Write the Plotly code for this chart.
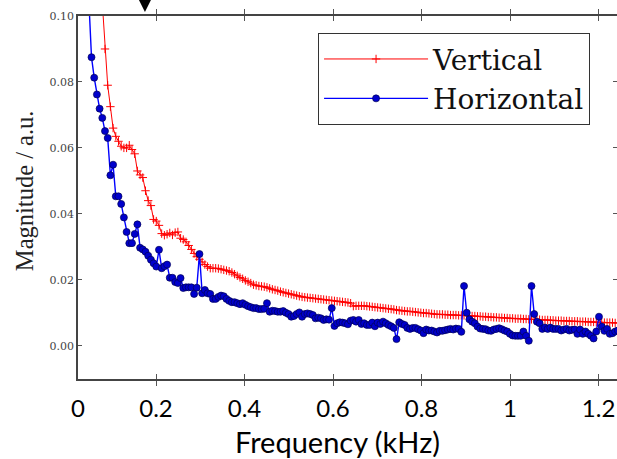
import numpy as np
import plotly.graph_objects as go

# Frequency grid (kHz): uniform sampling of the spectrum (first bin at ~0.024 kHz)
freq_khz = np.round(0.0237 + np.arange(201) * 0.0061, 4)

vertical_mag = [
    0.50, 0.40, 0.30, 0.25, 0.20,
    0.17, 0.15, 0.13, 0.115, 0.104,
    0.0900, 0.0790, 0.0725, 0.0660, 0.0635,
    0.0620, 0.0605, 0.0600, 0.0600, 0.0608,
    0.0595, 0.0582, 0.0530, 0.0518, 0.0510,
    0.0470, 0.0440, 0.0425, 0.0383, 0.0378,
    0.0365, 0.0340, 0.0335, 0.0338, 0.0342,
    0.0336, 0.0343, 0.0345, 0.0326, 0.0322,
    0.0315, 0.0304, 0.0292, 0.0280, 0.0270,
    0.0262, 0.0254, 0.0246, 0.0240, 0.0235,
    0.0235, 0.0235, 0.0234, 0.0232, 0.0230,
    0.0228, 0.0226, 0.0222, 0.0217, 0.0212,
    0.0207, 0.0203, 0.0198, 0.0194, 0.0190,
    0.0185, 0.0183, 0.0181, 0.0180, 0.0179,
    0.0177, 0.0174, 0.0171, 0.0169, 0.0167,
    0.0164, 0.0162, 0.0160, 0.0158, 0.0156,
    0.0154, 0.0152, 0.0150, 0.0148, 0.0147,
    0.0146, 0.0145, 0.0144, 0.0143, 0.0142,
    0.0141, 0.0140, 0.0139, 0.0138, 0.0137,
    0.0136, 0.0135, 0.0134, 0.0133, 0.0132,
    0.0131, 0.0129, 0.0120, 0.0121, 0.0121,
    0.0121, 0.0121, 0.0120, 0.0119, 0.0118,
    0.0117, 0.0116, 0.0115, 0.0114, 0.0113,
    0.0112, 0.0111, 0.0110, 0.0108, 0.0107,
    0.0106, 0.0105, 0.0104, 0.0104, 0.0103,
    0.0102, 0.0101, 0.0100, 0.0099, 0.0099,
    0.0098, 0.0097, 0.0096, 0.0095, 0.0095,
    0.0095, 0.0094, 0.0094, 0.0093, 0.0093,
    0.0093, 0.0092, 0.0092, 0.0092, 0.0091,
    0.0091, 0.0090, 0.0090, 0.0089, 0.0089,
    0.0088, 0.0088, 0.0087, 0.0087, 0.0086,
    0.0086, 0.0085, 0.0085, 0.0084, 0.0084,
    0.0083, 0.0083, 0.0082, 0.0082, 0.0082,
    0.0081, 0.0081, 0.0080, 0.0080, 0.0080,
    0.0079, 0.0079, 0.0078, 0.0078, 0.0078,
    0.0077, 0.0077, 0.0076, 0.0076, 0.0076,
    0.0075, 0.0075, 0.0075, 0.0074, 0.0074,
    0.0074, 0.0073, 0.0073, 0.0073, 0.0072,
    0.0072, 0.0072, 0.0071, 0.0071, 0.0071,
    0.0070, 0.0070, 0.0070, 0.0070, 0.0069,
    0.0069, 0.0069, 0.0068, 0.0068, 0.0068,
    0.0067,
]

horizontal_mag = [
    0.40, 0.30, 0.20, 0.15, 0.105,
    0.0875, 0.0813, 0.0762, 0.0719, 0.0691,
    0.0651, 0.0630, 0.0517, 0.0549, 0.0453,
    0.0453, 0.0430, 0.0389, 0.0345, 0.0311,
    0.0311, 0.0339, 0.0368, 0.0297, 0.0292,
    0.0285, 0.0273, 0.0261, 0.0250, 0.0240,
    0.0291, 0.0235, 0.0241, 0.0246, 0.0206,
    0.0206, 0.0193, 0.0190, 0.0205, 0.0175,
    0.0177, 0.0177, 0.0177, 0.0157, 0.0176,
    0.0278, 0.0159, 0.0169, 0.0159, 0.0157,
    0.0142, 0.0142, 0.0148, 0.0152, 0.0150,
    0.0142, 0.0136, 0.0132, 0.0132, 0.0129,
    0.0126, 0.0129, 0.0124, 0.0120, 0.0117,
    0.0114, 0.0114, 0.0111, 0.0111, 0.0112,
    0.0129, 0.0103, 0.0106, 0.0105, 0.0103,
    0.0103, 0.0105, 0.0100, 0.0096, 0.0088,
    0.0090, 0.0096, 0.0101, 0.0088, 0.0096,
    0.0098, 0.0096, 0.0093, 0.0083, 0.0085,
    0.0083, 0.0078, 0.0080, 0.0079, 0.0114,
    0.0060, 0.0068, 0.0071, 0.0070, 0.0068,
    0.0065, 0.0076, 0.0078, 0.0073, 0.0078,
    0.0066, 0.0068, 0.0063, 0.0063, 0.0070,
    0.0059, 0.0070, 0.0066, 0.0073, 0.0068,
    0.0063, 0.0059, 0.0054, 0.0020, 0.0071,
    0.0066, 0.0063, 0.0054, 0.0051, 0.0054,
    0.0054, 0.0050, 0.0046, 0.0038, 0.0049,
    0.0046, 0.0046, 0.0043, 0.0040, 0.0045,
    0.0045, 0.0047, 0.0049, 0.0051, 0.0049,
    0.0052, 0.0051, 0.0042, 0.0181, 0.0100,
    0.0080, 0.0073, 0.0068, 0.0058, 0.0052,
    0.0051, 0.0050, 0.0046, 0.0045, 0.0049,
    0.0051, 0.0053, 0.0050, 0.0046, 0.0043,
    0.0036, 0.0031, 0.0030, 0.0030, 0.0030,
    0.0043, 0.0030, 0.0015, 0.0181, 0.0096,
    0.0073, 0.0068, 0.0051, 0.0055, 0.0051,
    0.0055, 0.0051, 0.0051, 0.0051, 0.0046,
    0.0049, 0.0051, 0.0046, 0.0048, 0.0049,
    0.0036, 0.0049, 0.0036, 0.0043, 0.0036,
    0.0030, 0.0022, 0.0043, 0.0088, 0.0058,
    0.0045, 0.0051, 0.0036, 0.0038, 0.0043,
    0.0046,
]

x_range = [0.0237, 1.2417]
x_tick_vals = [0.0237, 0.2, 0.4, 0.6, 0.8, 1.0, 1.2]
x_tick_text = ["0", "0.2", "0.4", "0.6", "0.8", "1", "1.2"]
y_tick_vals = [0.00, 0.02, 0.04, 0.06, 0.08, 0.10]
y_tick_text = ["0.00", "0.02", "0.04", "0.06", "0.08", "0.10"]

SERIF = "Liberation Serif, Times New Roman, serif"
SERIF_WIDE = "DejaVu Serif, serif"
SANS = "Lato, Open Sans, sans-serif"

fig = go.Figure()
fig.add_trace(go.Scatter(
    x=freq_khz, y=vertical_mag, name="Vertical", mode="lines+markers",
    line=dict(color="#ff0000", width=1),
    marker=dict(symbol="cross-thin", size=6, color="#ff0000",
                line=dict(color="#ff0000", width=1)),
))
fig.add_trace(go.Scatter(
    x=freq_khz, y=horizontal_mag, name="Horizontal", mode="lines+markers",
    line=dict(color="#0000ff", width=1.4),
    marker=dict(symbol="circle", size=7, color="#0000cc",
                line=dict(color="#000055", width=0.7)),
))
# invisible helper so the right-side tick marks are drawn
fig.add_trace(go.Scatter(x=[], y=[], yaxis="y2", showlegend=False, hoverinfo="skip"))

fig.update_layout(
    width=617, height=459,
    margin=dict(l=78, r=0, t=16, b=80),
    paper_bgcolor="white", plot_bgcolor="white",
    showlegend=True,
    legend=dict(
        x=0.445, y=0.953, xanchor="left", yanchor="top",
        bgcolor="white", bordercolor="#333333", borderwidth=1.2,
        font=dict(family=SERIF_WIDE, size=28, color="#111111"),
        itemwidth=104,
    ),
    xaxis=dict(
        range=x_range, tickvals=x_tick_vals, ticktext=x_tick_text,
        ticks="inside", ticklen=5, tickwidth=1, tickcolor="#555555",
        showline=True, linecolor="#444444", linewidth=1.5, mirror="allticks",
        showgrid=False, zeroline=False,
        tickfont=dict(family=SANS, size=24, color="#000000"),
        ticklabelstandoff=7,
    ),
    yaxis=dict(
        range=[-0.0101, 0.1], tickvals=y_tick_vals, ticktext=y_tick_text,
        ticks="inside", ticklen=4, tickwidth=1, tickcolor="#555555",
        showline=True, linecolor="#444444", linewidth=1.5, mirror=False,
        showgrid=False, zeroline=False,
        tickfont=dict(family=SERIF_WIDE, size=11, color="#444444"),
    ),
    yaxis2=dict(
        overlaying="y", side="right", matches="y", tickvals=y_tick_vals,
        ticks="inside", ticklen=4, tickwidth=1, tickcolor="#555555",
        showticklabels=False, showline=False, showgrid=False, zeroline=False,
    ),
    annotations=[
        dict(text="Magnitude / a.u.", textangle=-90, xref="paper", yref="paper",
             x=-0.098, y=0.518, xanchor="center", yanchor="middle", showarrow=False,
             font=dict(family=SERIF, size=24.5, color="#222222")),
        dict(text="Frequency (kHz)", xref="paper", yref="paper",
             x=0.482, y=-0.172, xanchor="center", yanchor="middle", showarrow=False,
             font=dict(family=SANS, size=29, color="#000000")),
        dict(text="", xref="x", yref="paper", x=0.175, y=1.011,
             ax=0, ay=-16, showarrow=True, arrowhead=2, arrowsize=1.4,
             arrowwidth=2.5, arrowcolor="#000000"),
    ],
)

fig.write_html("out.html")
